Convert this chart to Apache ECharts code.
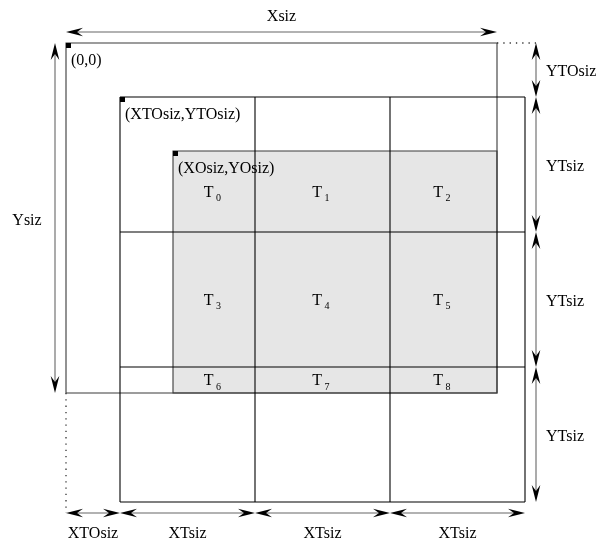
<!DOCTYPE html>
<html><head><meta charset="utf-8">
<script src="https://cdn.jsdelivr.net/npm/echarts@6/dist/echarts.min.js"></script>
<style>html,body{margin:0;padding:0;background:#fff}#c{width:604px;height:542px}</style>
</head><body><div id="c"></div>
<script>
// Reference-grid sizes (image units)
const Xsiz = 431, Ysiz = 350;
const XOsiz = 107, YOsiz = 108;
const XTOsiz = 54, YTOsiz = 54;
const XTsiz = 135, YTsiz = 135;
const tileCols = 3, tileRows = 3;
const tileIndex = ['0','1','2','3','4','5','6','7','8'];
const cornerLabels = ['(0,0)', '(XTOsiz,YTOsiz)', '(XOsiz,YOsiz)'];
const hSegNames = ['XTOsiz', 'XTsiz', 'XTsiz', 'XTsiz'];
const vSegNames = ['YTOsiz', 'YTsiz', 'YTsiz', 'YTsiz'];

const colEdges = [XTOsiz]; for (let i = 1; i <= tileCols; i++) colEdges.push(XTOsiz + i * XTsiz);
const rowEdges = [YTOsiz]; for (let i = 1; i <= tileRows; i++) rowEdges.push(YTOsiz + i * YTsiz);
const gridR = colEdges[tileCols], gridB = rowEdges[tileRows];

const FONT = '16px "Liberation Serif", "DejaVu Serif", serif';

// rectangles: x0,y0,x1,y1
const rectData = [[XOsiz, YOsiz, Xsiz, Ysiz], [0, 0, Xsiz, Ysiz]];
// tile grid lines
const gridLines = [];
colEdges.forEach(x => gridLines.push([x, rowEdges[0], x, gridB]));
rowEdges.forEach(y => gridLines.push([colEdges[0], y, gridR, y]));
// corners
const corners = [[0, 0, cornerLabels[0]], [XTOsiz, YTOsiz, cornerLabels[1]], [XOsiz, YOsiz, cornerLabels[2]]];
// dimension arrows: x0,y0,x1,y1,side,label
const dims = [[0, 0, Xsiz, 0, 'top', 'Xsiz'], [0, 0, 0, Ysiz, 'left', 'Ysiz']];
const hEdges = [0].concat(colEdges), vEdges = [0].concat(rowEdges);
for (let i = 0; i < 4; i++) dims.push([hEdges[i], gridB, hEdges[i + 1], gridB, 'bottom', hSegNames[i]]);
for (let i = 0; i < 4; i++) dims.push([gridR, vEdges[i], gridR, vEdges[i + 1], 'right', vSegNames[i]]);
// dotted extension lines
const dotted = [[Xsiz, 0, gridR, 0, 'h'], [0, Ysiz, 0, gridB, 'v']];
// tile labels
const tiles = [];
for (let r = 0; r < tileRows; r++) for (let c = 0; c < tileCols; c++) {
  const x0 = Math.max(colEdges[c], XOsiz), x1 = Math.min(colEdges[c + 1], Xsiz);
  const y0 = Math.max(rowEdges[r], YOsiz), y1 = Math.min(rowEdges[r + 1], Ysiz);
  tiles.push([(x0 + x1) / 2, (y0 + y1) / 2, tileIndex[r * tileCols + c]]);
}

const OFF = 11;
function head(tx, ty, dx, dy) {
  const nx = -dy, ny = dx, L = 17, W = 4.3, N = 11;
  return { type: 'polygon', shape: { points: [[tx, ty], [tx - dx * L + nx * W, ty - dy * L + ny * W], [tx - dx * N, ty - dy * N], [tx - dx * L - nx * W, ty - dy * L - ny * W]] }, style: { fill: '#000' } };
}

const chart = echarts.init(document.getElementById('c'), null, { renderer: 'canvas' });
chart.setOption({
  animation: false,
  backgroundColor: '#fff',
  grid: { left: 0, right: 0, top: 0, bottom: 0 },
  xAxis: { type: 'value', min: -66, max: 538, show: false },
  yAxis: { type: 'value', min: -43, max: 499, inverse: true, show: false },
  series: [
    { type: 'custom', data: rectData, silent: true,
      renderItem: (p, api) => {
        const a = api.coord([api.value(0), api.value(1)]), b = api.coord([api.value(2), api.value(3)]);
        const img = p.dataIndex === 0;
        return { type: 'rect', shape: { x: a[0], y: a[1], width: b[0] - a[0], height: b[1] - a[1] },
          style: { fill: img ? '#e6e6e6' : 'none', stroke: '#3a3a3a', lineWidth: 1.1 } };
      } },
    { type: 'custom', data: gridLines, silent: true,
      renderItem: (p, api) => {
        const a = api.coord([api.value(0), api.value(1)]), b = api.coord([api.value(2), api.value(3)]);
        return { type: 'line', shape: { x1: a[0], y1: a[1], x2: b[0], y2: b[1] }, style: { stroke: '#000', lineWidth: 1.1 } };
      } },
    { type: 'custom', data: dotted, silent: true,
      renderItem: (p, api) => {
        const a = api.coord([api.value(0), api.value(1)]), b = api.coord([api.value(2), api.value(3)]);
        const h = api.value(4) === 'h';
        const x2 = h ? b[0] + OFF : b[0], y2 = h ? b[1] : b[1] + OFF;
        return { type: 'line', shape: { x1: a[0], y1: a[1], x2: x2, y2: y2 }, style: { stroke: '#333', lineWidth: 1.3, lineDash: [1.3, 5] } };
      } },
    { type: 'custom', data: corners, silent: true,
      renderItem: (p, api) => {
        const a = api.coord([api.value(0), api.value(1)]);
        return { type: 'group', children: [
          { type: 'rect', shape: { x: a[0], y: a[1], width: 5, height: 5 }, style: { fill: '#000' } },
          { type: 'text', style: { text: api.value(2), x: a[0] + 5, y: a[1] + 18, font: FONT, fill: '#000', textAlign: 'left', textVerticalAlign: 'middle' } }
        ] };
      } },
    { type: 'custom', data: dims, silent: true,
      renderItem: (p, api) => {
        let a = api.coord([api.value(0), api.value(1)]), b = api.coord([api.value(2), api.value(3)]);
        const side = api.value(4);
        let ox = 0, oy = 0;
        if (side === 'top') oy = -OFF; else if (side === 'bottom') oy = OFF; else if (side === 'left') ox = -OFF; else ox = OFF;
        a = [a[0] + ox, a[1] + oy]; b = [b[0] + ox, b[1] + oy];
        const len = Math.hypot(b[0] - a[0], b[1] - a[1]);
        const dx = (b[0] - a[0]) / len, dy = (b[1] - a[1]) / len;
        const mx = (a[0] + b[0]) / 2, my = (a[1] + b[1]) / 2;
        let tx = mx, ty = my, align = 'center';
        if (side === 'top') ty = my - 15;
        else if (side === 'bottom') ty = my + 21;
        else if (side === 'left') { tx = mx - 28; ty = my + 3; }
        else { tx = mx + 10; ty = my + 2; align = 'left'; }
        return { type: 'group', children: [
          { type: 'line', shape: { x1: a[0] + dx * 8, y1: a[1] + dy * 8, x2: b[0] - dx * 8, y2: b[1] - dy * 8 }, style: { stroke: '#666', lineWidth: 1.1 } },
          head(a[0], a[1], -dx, -dy),
          head(b[0], b[1], dx, dy),
          { type: 'text', style: { text: api.value(5), x: tx, y: ty, font: FONT, fill: '#000', textAlign: align, textVerticalAlign: 'middle' } }
        ] };
      } },
    { type: 'custom', data: tiles, silent: true,
      renderItem: (p, api) => {
        const a = api.coord([api.value(0), api.value(1)]);
        return { type: 'group', children: [
          { type: 'text', style: { text: 'T', x: a[0] - 0.5, y: a[1] + 1, font: FONT, fill: '#000', textAlign: 'right', textVerticalAlign: 'middle' } },
          { type: 'text', style: { text: String(api.value(2)), x: a[0] + 2, y: a[1] + 7, font: '10px "Liberation Serif", serif', fill: '#000', textAlign: 'left', textVerticalAlign: 'middle' } }
        ] };
      } }
  ]
});
</script></body></html>
